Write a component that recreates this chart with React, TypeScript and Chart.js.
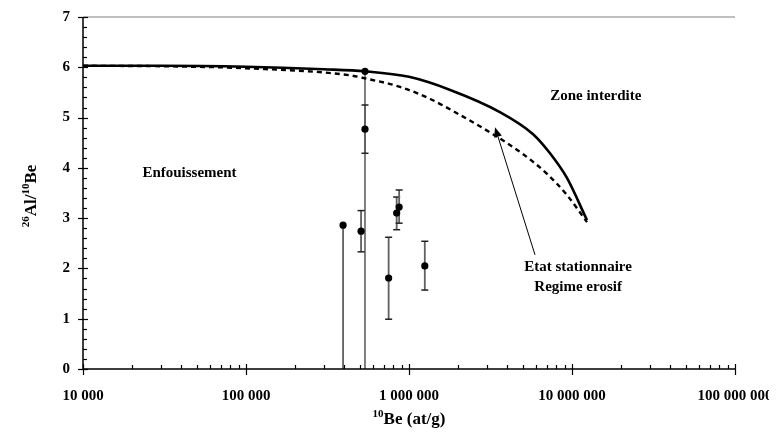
import React, { useEffect, useRef } from 'react';
import { Chart, registerables } from 'chart.js';

Chart.register(...registerables);

// Samples: 10Be concentration (at/g) and 26Al/10Be ratio
const sampleBe = [3.94e5, 5.08e5, 5.37e5, 5.37e5, 7.5e5, 8.4e5, 8.7e5, 1.25e6];
const sampleRatio = [2.86, 2.74, 5.92, 4.77, 1.81, 3.1, 3.22, 2.05];
const errLow = [2.86, 0.41, 5.92, 0.48, 0.82, 0.33, 0.32, 0.48];
const errHigh = [0, 0.41, 0, 0.48, 0.81, 0.32, 0.34, 0.49];

// Constant exposure curve (solid)
const exposureBe = [1e4, 3e4, 1e5, 3e5, 5.37e5, 1e6, 1.79e6, 3.61e6, 5.77e6, 7.33e6, 9.31e6, 1.236e7];
const exposureRatio = [6.03, 6.03, 6.01, 5.96, 5.92, 5.81, 5.55, 5.11, 4.67, 4.29, 3.8, 2.96];

// Steady state erosion curve (dashed)
const erosionBe = [1e4, 3.2e4, 1e5, 4.35e5, 5.37e5, 8.81e5, 1.35e6, 1.91e6, 3.27e6, 4.93e6, 7.03e6, 9.31e6, 1.236e7];
const erosionRatio = [6.03, 6.02, 5.98, 5.84, 5.78, 5.61, 5.37, 5.11, 4.67, 4.29, 3.88, 3.46, 2.92];

// Axis ticks
const xMajorTicks = [1e4, 1e5, 1e6, 1e7, 1e8];
const yMajorTicks = [0, 1, 2, 3, 4, 5, 6, 7];

// Annotations (data coordinates)
const labelZone = { text: 'Zone interdite', x: 1.4e7, y: 5.43 };
const labelBurial = { text: 'Enfouissement', x: 4.5e4, y: 3.9 };
const labelSteady1 = { text: 'Etat stationnaire', x: 1.09e7, y: 2.03 };
const labelSteady2 = { text: 'Regime erosif', x: 1.09e7, y: 1.63 };
const arrowFrom = { x: 5.93e6, y: 2.27 };
const arrowTo = { x: 3.37e6, y: 4.81 };

const FONT = '"Liberation Serif", "Times New Roman", serif';

const fmt = (v: number) => String(Math.round(v)).replace(/\B(?=(\d{3})+(?!\d))/g, ' ');

const decorPlugin = {
  id: 'decor',
  beforeDatasetsDraw(chart: any) {
    const { ctx } = chart;
    const xs = chart.scales.x;
    const ys = chart.scales.y;
    ctx.save();
    for (let i = 0; i < sampleBe.length; i++) {
      const px = xs.getPixelForValue(sampleBe[i]);
      const lo = sampleRatio[i] - errLow[i];
      const hi = sampleRatio[i] + errHigh[i];
      const pLo = ys.getPixelForValue(lo);
      const pHi = ys.getPixelForValue(hi);
      const thin = errHigh[i] === 0 && i === 2;
      ctx.strokeStyle = thin ? '#000' : '#606060';
      ctx.lineWidth = thin ? 1 : 1.8;
      ctx.beginPath();
      ctx.moveTo(px, pLo);
      ctx.lineTo(px, pHi);
      ctx.stroke();
      ctx.strokeStyle = '#202020';
      ctx.lineWidth = 1.5;
      if (errLow[i] > 0 && lo > 0) {
        ctx.beginPath();
        ctx.moveTo(px - 3.5, pLo);
        ctx.lineTo(px + 3.5, pLo);
        ctx.stroke();
      }
      if (errHigh[i] > 0) {
        ctx.beginPath();
        ctx.moveTo(px - 3.5, pHi);
        ctx.lineTo(px + 3.5, pHi);
        ctx.stroke();
      }
    }
    ctx.restore();
  },
  afterDraw(chart: any) {
    const { ctx, chartArea } = chart;
    const xs = chart.scales.x;
    const ys = chart.scales.y;
    const { left, right, top, bottom } = chartArea;
    ctx.save();
    // top border
    ctx.strokeStyle = '#808080';
    ctx.lineWidth = 1.2;
    ctx.beginPath();
    ctx.moveTo(left, top);
    ctx.lineTo(right, top);
    ctx.stroke();
    // axes
    ctx.strokeStyle = '#000';
    ctx.lineWidth = 1.5;
    ctx.beginPath();
    ctx.moveTo(left, top);
    ctx.lineTo(left, bottom);
    ctx.lineTo(right, bottom);
    ctx.stroke();
    // y ticks
    ctx.lineWidth = 1.2;
    ys.ticks.forEach((t: any) => {
      const py = Math.round(ys.getPixelForValue(t.value)) + 0.5;
      ctx.beginPath();
      ctx.moveTo(left - 5, py);
      ctx.lineTo(left + 5, py);
      ctx.stroke();
      if (t.value < 7) {
        for (let k = 1; k < 5; k++) {
          const my = Math.round(ys.getPixelForValue(t.value + k * 0.2)) + 0.5;
          ctx.beginPath();
          ctx.moveTo(left, my);
          ctx.lineTo(left + 4, my);
          ctx.stroke();
        }
      }
    });
    // x ticks
    xs.ticks.forEach((t: any) => {
      const px = Math.round(xs.getPixelForValue(t.value)) + 0.5;
      ctx.beginPath();
      ctx.moveTo(px, bottom - 5);
      ctx.lineTo(px, bottom + 6);
      ctx.stroke();
      if (t.value < 1e8) {
        for (let k = 2; k < 10; k++) {
          const mx = Math.round(xs.getPixelForValue(t.value * k)) + 0.5;
          ctx.beginPath();
          ctx.moveTo(mx, bottom);
          ctx.lineTo(mx, bottom - 4);
          ctx.stroke();
        }
      }
    });
    // annotation texts
    ctx.fillStyle = '#000';
    ctx.font = `bold 15px ${FONT}`;
    ctx.textAlign = 'center';
    ctx.textBaseline = 'middle';
    [labelZone, labelBurial, labelSteady1, labelSteady2].forEach((l) => {
      ctx.fillText(l.text, xs.getPixelForValue(l.x), ys.getPixelForValue(l.y));
    });
    // arrow
    const ax0 = xs.getPixelForValue(arrowFrom.x);
    const ay0 = ys.getPixelForValue(arrowFrom.y);
    const ax1 = xs.getPixelForValue(arrowTo.x);
    const ay1 = ys.getPixelForValue(arrowTo.y);
    const ang = Math.atan2(ay1 - ay0, ax1 - ax0);
    const headLen = 10;
    const bx = ax1 - headLen * Math.cos(ang);
    const by = ay1 - headLen * Math.sin(ang);
    ctx.lineWidth = 1;
    ctx.beginPath();
    ctx.moveTo(ax0, ay0);
    ctx.lineTo(bx, by);
    ctx.stroke();
    ctx.beginPath();
    ctx.moveTo(ax1, ay1);
    ctx.lineTo(bx + 4 * Math.sin(ang), by - 4 * Math.cos(ang));
    ctx.lineTo(bx - 4 * Math.sin(ang), by + 4 * Math.cos(ang));
    ctx.closePath();
    ctx.fill();
    // titles with superscripts
    const drawSup = (parts: { t: string; sup: boolean }[], cx: number, cy: number) => {
      const big = `bold 17px ${FONT}`;
      const small = `bold 11px ${FONT}`;
      let w = 0;
      parts.forEach((p) => {
        ctx.font = p.sup ? small : big;
        w += ctx.measureText(p.t).width;
      });
      let x = cx - w / 2;
      ctx.textAlign = 'left';
      ctx.textBaseline = 'alphabetic';
      parts.forEach((p) => {
        ctx.font = p.sup ? small : big;
        ctx.fillText(p.t, x, p.sup ? cy - 7 : cy);
        x += ctx.measureText(p.t).width;
      });
    };
    drawSup(
      [
        { t: '10', sup: true },
        { t: 'Be (at/g)', sup: false },
      ],
      (left + right) / 2,
      chart.height - 4
    );
    ctx.save();
    ctx.translate(22, (top + bottom) / 2 + 3);
    ctx.rotate(-Math.PI / 2);
    drawSup(
      [
        { t: '26', sup: true },
        { t: 'Al/', sup: false },
        { t: '10', sup: true },
        { t: 'Be', sup: false },
      ],
      0,
      6
    );
    ctx.restore();
    ctx.restore();
  },
};

export default function App() {
  const ref = useRef<HTMLCanvasElement | null>(null);
  useEffect(() => {
    if (!ref.current) return;
    const chart = new Chart(ref.current, {
      type: 'scatter',
      data: {
        datasets: [
          {
            label: 'Exposition constante',
            data: exposureBe.map((x, i) => ({ x, y: exposureRatio[i] })),
            showLine: true,
            borderColor: '#000',
            borderWidth: 2.6,
            pointRadius: 0,
            cubicInterpolationMode: 'monotone',
          },
          {
            label: 'Etat stationnaire',
            data: erosionBe.map((x, i) => ({ x, y: erosionRatio[i] })),
            showLine: true,
            borderColor: '#000',
            borderWidth: 2.4,
            borderDash: [5, 4],
            pointRadius: 0,
            cubicInterpolationMode: 'monotone',
          },
          {
            label: 'Echantillons',
            data: sampleBe.map((x, i) => ({ x, y: sampleRatio[i] })),
            backgroundColor: '#000',
            borderColor: '#000',
            pointRadius: 3.6,
            pointBorderWidth: 0,
          },
        ],
      },
      options: {
        animation: false,
        responsive: true,
        maintainAspectRatio: false,
        layout: { padding: { left: 0, right: 42, top: 9, bottom: 0 } },
        plugins: { legend: { display: false }, tooltip: { enabled: false } },
        scales: {
          x: {
            type: 'logarithmic',
            min: 1e4,
            max: 1e8,
            grid: { display: false, drawTicks: false },
            border: { display: false },
            afterBuildTicks: (s: any) => {
              s.ticks = xMajorTicks.map((v) => ({ value: v }));
            },
            afterFit: (s: any) => {
              s.height = 59;
              s.paddingLeft = 0;
              s.paddingRight = 0;
            },
            ticks: {
              autoSkip: false,
              maxRotation: 0,
              padding: 18,
              color: '#000',
              font: { family: FONT, size: 15, weight: 'bold' },
              callback: (v: any) => fmt(Number(v)),
            },
          },
          y: {
            min: 0,
            max: 7,
            grid: { display: false, drawTicks: false },
            border: { display: false },
            afterBuildTicks: (s: any) => {
              s.ticks = yMajorTicks.map((v) => ({ value: v }));
            },
            afterFit: (s: any) => {
              s.width = 75;
              s.paddingTop = 0;
              s.paddingBottom = 0;
            },
            ticks: {
              padding: 13,
              color: '#000',
              font: { family: FONT, size: 15, weight: 'bold' },
            },
          },
        },
      },
      plugins: [decorPlugin],
    } as any);
    return () => chart.destroy();
  }, []);
  return (
    <div style={{ width: 769, height: 420, position: 'relative' }}>
      <canvas ref={ref} />
    </div>
  );
}
